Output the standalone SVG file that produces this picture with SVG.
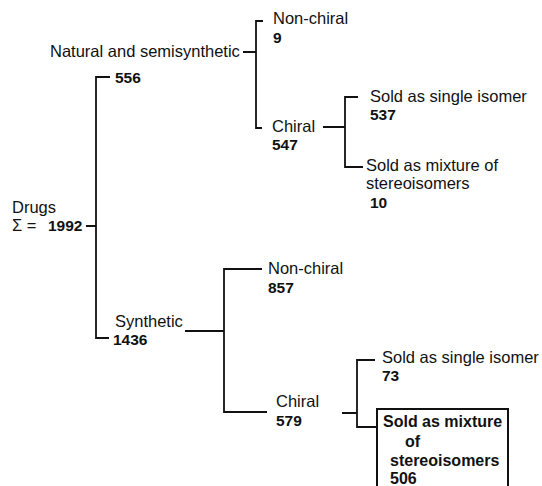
<svg xmlns="http://www.w3.org/2000/svg" width="542" height="486" viewBox="0 0 542 486">
<style>
text{font-family:"Liberation Sans",Arial,sans-serif;fill:#111;}
.t{font-size:16.5px;}
.n{font-size:15.5px;font-weight:bold;}
.b{font-size:16px;font-weight:bold;}
.c{fill:none;stroke:#111;stroke-width:1.8;}
</style>
<rect width="542" height="486" fill="#fff"/>
<g id="connectors" class="c">
<path d="M86,226H96M110,77H96V338H109"/>
<path d="M243,52H256M263,21H256V128H262"/>
<path d="M323,127H345M358,97H345V167H363"/>
<path d="M185,331H224M262,269H224V412H267"/>
<path d="M342,413H357M375,360H357V427H377"/>
</g>
<g id="drugs"><text class="t" x="12" y="213">Drugs</text><text class="t" x="12" y="231">Σ =</text><text class="n" x="48" y="231">1992</text></g>
<g id="natural"><text class="t" x="50" y="57">Natural and semisynthetic</text><text class="n" x="115" y="83">556</text></g>
<g id="nat-nonchiral"><text class="t" x="273" y="24">Non-chiral</text><text class="n" x="273" y="43">9</text></g>
<g id="nat-chiral"><text class="t" x="272" y="132">Chiral</text><text class="n" x="272" y="150">547</text></g>
<g id="nat-single"><text class="t" x="370" y="102">Sold as single isomer</text><text class="n" x="370" y="120">537</text></g>
<g id="nat-mixture"><text class="t" x="366" y="171">Sold as mixture of</text><text class="t" x="366" y="189">stereoisomers</text><text class="n" x="370" y="208">10</text></g>
<g id="synthetic"><text class="t" x="115" y="327">Synthetic</text><text class="n" x="113" y="345">1436</text></g>
<g id="syn-nonchiral"><text class="t" x="268" y="274">Non-chiral</text><text class="n" x="268" y="293">857</text></g>
<g id="syn-chiral"><text class="t" x="276" y="407">Chiral</text><text class="n" x="276" y="426">579</text></g>
<g id="syn-single"><text class="t" x="382" y="363">Sold as single isomer</text><text class="n" x="382" y="381">73</text></g>
<g id="syn-mixture"><rect x="377" y="409" width="131" height="90" fill="none" stroke="#111" stroke-width="2"/><text class="b" x="383" y="427">Sold as mixture</text><text class="b" x="405" y="447">of</text><text class="b" x="390" y="466">stereoisomers</text><text class="b" x="390" y="484">506</text></g>
</svg>
